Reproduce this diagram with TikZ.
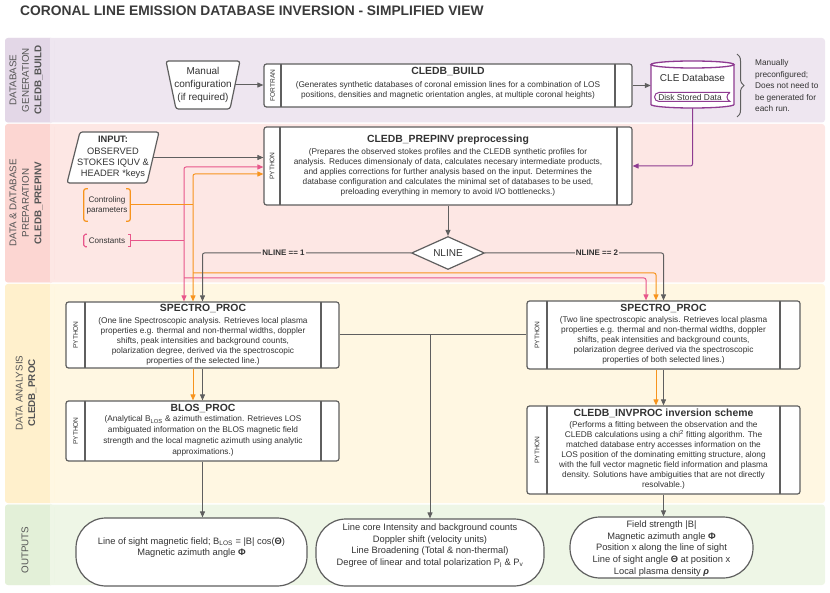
\documentclass[tikz,border=0pt]{standalone}
\usepackage{fontspec}
\setmainfont{Liberation Sans}
\usetikzlibrary{arrows.meta,shapes.geometric,calc,decorations.pathreplacing}

\definecolor{txt}{HTML}{333333}
\definecolor{ttlc}{HTML}{3A3A3A}
\definecolor{lblc}{HTML}{555555}
\definecolor{ln}{HTML}{5F5F5F}
\definecolor{org}{HTML}{F7941D}
\definecolor{pnk}{HTML}{E8568A}
\definecolor{prp}{HTML}{8E3B91}
\definecolor{bA}{HTML}{EEE6F0}\definecolor{bAs}{HTML}{E3D7E7}
\definecolor{bB}{HTML}{FDE7E4}\definecolor{bBs}{HTML}{FCD6D2}
\definecolor{bC}{HTML}{FFF7E2}\definecolor{bCs}{HTML}{FFF0CC}
\definecolor{bD}{HTML}{EEF6E6}\definecolor{bDs}{HTML}{E3F0D8}

\newcommand{\fsz}[2]{\fontsize{#1}{#2}\selectfont}

\tikzset{
  arr/.style={-{Triangle[length=6pt,width=5pt]}},
  arrtwo/.style={{Triangle[length=6pt,width=5pt]}-{Triangle[length=6pt,width=5pt]}},
  gline/.style={draw=ln, line width=1pt},
  oline/.style={draw=org, line width=1pt},
  pline/.style={draw=pnk, line width=1pt},
  uline/.style={draw=prp, line width=1pt},
  proc/.style={draw=ln, line width=1.2pt, fill=white, rounded corners=2.5pt, inner sep=0pt, rectangle},
  shapeline/.style={draw=ln, line width=1.2pt, fill=white, rounded corners=2.5pt},
  ttl/.style={font=\bfseries\fsz{10.4}{12}, text=txt, inner sep=0pt},
  dsc/.style={font=\fsz{8.3}{10}, text=txt, align=center, inner sep=0pt},
  lang/.style={font=\fsz{6.6}{8}, text=txt, rotate=90, inner sep=0pt},
  blabel/.style={font=\fsz{9.8}{12.5}, text=lblc, rotate=90, align=center, inner sep=0pt},
  outp/.style={draw=ln, line width=1.2pt, fill=white, rounded corners=30pt, inner sep=0pt},
  otext/.style={font=\fsz{9.3}{11.8}, align=center, text=txt, inner sep=0pt},
  cond/.style={font=\bfseries\fsz{8}{10}, text=txt, fill=bB, inner sep=1pt},
}

% name, x1, y1, x2, y2, left strip, right strip, language
\newcommand{\procbox}[8]{%
  \node[proc, minimum width={#4-#2}, minimum height={#5-#3}] (#1) at ({(#2+#4)/2},{(#3+#5)/2}) {};
  \draw[ln, line width=1.2pt] ({#2+#6},#3) -- ({#2+#6},#5);
  \draw[ln, line width=1.2pt] ({#4-#7},#3) -- ({#4-#7},#5);
  \node[lang] (#1-lang) at ({#2+#6/2},{(#3+#5)/2}) {#8};
}

\begin{document}
\begin{tikzpicture}[x=1pt,y=-1pt]
\useasboundingbox (0,0) rectangle (830,593);

% ---------- bands ----------
\fill[bA, rounded corners=3pt] (5,38) rectangle (825,122.5);
\fill[bAs, rounded corners=3pt] (5,38) rectangle (54,122.5);
\fill[bA] (50,38) rectangle (54,122.5);
\fill[bB, rounded corners=3pt] (5,124) rectangle (825,282.5);
\fill[bBs, rounded corners=3pt] (5,124) rectangle (54,282.5);
\fill[bB] (50,124) rectangle (54,282.5);
\fill[bC, rounded corners=3pt] (5,284) rectangle (825,503);
\fill[bCs, rounded corners=3pt] (5,284) rectangle (54,503);
\fill[bC] (50,284) rectangle (54,503);
\fill[bD, rounded corners=3pt] (5,504.5) rectangle (825,585);
\fill[bDs, rounded corners=3pt] (5,504.5) rectangle (54,585);
\fill[bD] (50,504.5) rectangle (54,585);

\node[blabel] (lab1) at (26,80) {DATABASE\\GENERATION\\\textbf{CLEDB\_BUILD}};
\node[blabel] (lab2) at (26,203) {DATA \& DATABASE\\PREPARATION\\\textbf{CLEDB\_PREPINV}};
\node[blabel] (lab3) at (26,393) {DATA ANALYSIS\\\textbf{CLEDB\_PROC}};
\node[blabel] (lab4) at (25,550) {OUTPUTS};

% ---------- title ----------
\node[anchor=west, inner sep=0pt, font=\bfseries\fsz{13.8}{16}, text=ttlc] (title) at (20,10.5)
  {CORONAL LINE EMISSION DATABASE INVERSION - SIMPLIFIED VIEW};

% ---------- database generation ----------
\draw[shapeline] (166,61) -- (240,61) -- (230,109) -- (176,109) -- cycle;
\node[align=center, font=\fsz{10}{13}, text=txt, inner sep=0pt, minimum width=64pt] (manual) at (203,85) {Manual\\configuration\\(if required)};

\procbox{build}{264}{64}{632}{107}{17}{17}{FORTRAN}
\node[ttl] (build-t) at (448,72) {CLEDB\_BUILD};
\node[dsc] (build-d) at (448,90) {(Generates synthetic databases of coronal emission lines for a combination of LOS\\positions, densities and magnetic orientation angles, at multiple coronal heights)};

\node[minimum width=83pt, minimum height=47pt, inner sep=0pt] (db) at (692.5,84.5) {};
\draw[prp, line width=1.3pt, fill=white] (651,64.5) -- (651,104.5)
  arc[start angle=180, end angle=360, x radius=41.5pt, y radius=3.5pt] -- (734,64.5);
\draw[prp, line width=1.3pt, fill=white] (692.5,64.5) ellipse [x radius=41.5pt, y radius=3.5pt];
\node[font=\fsz{10}{12}, text=txt, inner sep=0pt] (db-t) at (692.5,78) {CLE Database};
\draw[prp, line width=1pt, fill=white] (730,92.5) -- (659,92.5)
  arc[start angle=90, end angle=270, x radius=4.5pt, y radius=4.5pt] -- (730,101.5)
  .. controls (726,99.5) and (726,94.5) .. (730,92.5);
\node[font=\fsz{8.4}{10}, text=txt, inner sep=0pt] (disk) at (690,97.3) {Disk Stored Data};

\draw[decorate, decoration={brace, amplitude=7pt}, ln, line width=1pt] (737,54) -- (737,117);
\node[anchor=west, align=left, font=\fsz{8.3}{11.5}, text=txt, inner sep=0pt] (note) at (755,86)
  {Manually\\preconfigured;\\Does not need to\\be generated for\\each run.};

\draw[gline, arr] (manual.east) -- (manual.east -| build.west);
\draw[gline, arr] (build.east) -- (build.east -| db.west);

% ---------- preparation ----------
\draw[shapeline] (80,132) -- (159,132) -- (147,183) -- (67,183) -- cycle;
\node[align=center, font=\fsz{9.3}{11.3}, text=txt, inner sep=0pt, minimum width=80pt] (input) at (113,157.5)
  {\textbf{INPUT:}\\OBSERVED\\STOKES IQUV \&\\HEADER *keys};

\node[font=\fsz{8.1}{10}, align=center, text=txt, minimum width=46pt, minimum height=32pt, inner sep=0pt] (ctrl) at (107,205) {Controling\\parameters};
\draw[org, line width=1.2pt, rounded corners=2pt] ($(ctrl.north west)+(4,0)$) -- (ctrl.north west) -- (ctrl.south west) -- ($(ctrl.south west)+(4,0)$);
\draw[org, line width=1.2pt, rounded corners=2pt] ($(ctrl.north east)+(-4,0)$) -- (ctrl.north east) -- (ctrl.south east) -- ($(ctrl.south east)+(-4,0)$);

\node[font=\fsz{8.1}{10}, text=txt, minimum width=46pt, minimum height=12pt, inner sep=0pt] (const) at (107,240.5) {Constants};
\draw[pnk, line width=1.2pt, rounded corners=1.5pt] ($(const.north west)+(3,0)$) -- (const.north west) -- (const.south west) -- ($(const.south west)+(3,0)$);
\draw[pnk, line width=1.2pt] ($(const.north east)+(-2,0)$) -- (const.north east) -- (const.south east) -- ($(const.south east)+(-2,0)$);

\procbox{prep}{264}{127}{632}{205}{16}{15}{PYTHON}
\node[ttl] (prep-t) at (448,140) {CLEDB\_PREPINV preprocessing};
\node[dsc] (prep-d) at (448,172.5) {(Prepares the observed stokes profiles and the CLEDB synthetic profiles for\\analysis. Reduces dimensionaly of data, calculates necesary intermediate products,\\and applies corrections for further analysis based on the input. Determines the\\database configuration and calculates the minimal set of databases to be used,\\preloading everything in memory to avoid I/O bottlenecks.)};

\node[diamond, draw=ln, line width=1.2pt, fill=white, minimum width=73pt, minimum height=33pt,
      inner sep=0pt, aspect=2.2, font=\fsz{10}{12}, text=txt] (nline) at (448,253) {NLINE};

% ---------- analysis boxes ----------
\procbox{sp1}{66}{302}{339}{368}{19}{18}{PYTHON}
\node[ttl] (sp1-t) at (203,309) {SPECTRO\_PROC};
\node[dsc] (sp1-d) at (203,341.5) {(One line Spectroscopic analysis. Retrieves local plasma\\properties e.g. thermal and non-thermal widths, doppler\\shifts, peak intensities and background counts,\\polarization degree, derived via the spectroscopic\\properties of the selected line.)};

\procbox{blos}{66}{401}{339}{461}{19}{18}{PYTHON}
\node[ttl] (blos-t) at (203,408.5) {BLOS\_PROC};
\node[dsc, font=\fsz{8.3}{10.8}] (blos-d) at (203,436) {(Analytical B\textsubscript{LOS} \& azimuth estimation. Retrieves LOS\\ambiguated information on the BLOS magnetic field\\strength and the local magnetic azimuth using analytic\\approximations.)};

\procbox{sp2}{527}{301}{800}{369}{20}{20}{PYTHON}
\node[ttl] (sp2-t) at (663.5,308.5) {SPECTRO\_PROC};
\node[dsc] (sp2-d) at (663.5,340.5) {(Two line spectroscopic analysis. Retrieves local plasma\\properties e.g. thermal and non-thermal widths, doppler\\shifts, peak intensities and background counts,\\polarization degree derived via the spectroscopic\\properties of both selected lines.)};

\procbox{inv}{527}{406}{800}{494}{20}{20}{PYTHON}
\node[ttl] (inv-t) at (663.5,413.5) {CLEDB\_INVPROC inversion scheme};
\node[dsc] (inv-d) at (663.5,455.5) {(Performs a fitting between the observation and the\\CLEDB calculations using a chi\textsuperscript{2} fitting algorithm. The\\matched database entry accesses information on the\\LOS position of the dominating emitting structure, along\\with the full vector magnetic field information and plasma\\density. Solutions have ambiguities that are not directly\\resolvable.)};

% ---------- outputs ----------
\node[outp, minimum width=231pt, minimum height=68pt] (out1) at (191.5,552) {};
\node[otext] (out1-t) at (191.5,547.5) {Line of sight magnetic field; B\textsubscript{LOS} = |B| cos(\textbf{Θ})\\Magnetic azimuth angle \textbf{Φ}};
\node[outp, minimum width=228pt, minimum height=67pt] (out2) at (430,552.5) {};
\node[otext] (out2-t) at (430,545.5) {Line core Intensity and background counts\\Doppler shift (velocity units)\\Line Broadening (Total \& non-thermal)\\Degree of linear and total polarization P\textsubscript{l} \& P\textsubscript{v}};
\node[outp, minimum width=183pt, minimum height=61pt] (out3) at (661.5,547.5) {};
\node[otext] (out3-t) at (661.5,548.5) {Field strength |B|\\Magnetic azimuth angle \textbf{Φ}\\Position x along the line of sight\\Line of sight angle \textbf{Θ} at position x\\Local plasma density \textbf{\textit{ρ}}};

% ---------- connectors ----------
\coordinate (obus) at (193,273);
\coordinate (pbus) at (184,278);
\coordinate (jn) at (430,335);

\draw[gline, arr] (input.east) -- (input.east -| prep.west);
\draw[uline, arr, rounded corners=2pt] (db.south) |- (prep.east |- 0,166);

\draw[pline] (const.east) -- (const.east -| pbus);
\draw[pline, arrtwo, rounded corners=2pt] (pbus |- sp1.north) -- (pbus |- 0,167) -- (prep.west |- 0,167);
\draw[pline, arr, rounded corners=2pt] (pbus) -| (sp2.north -| 646,0);

\draw[oline] (ctrl.east) -- (ctrl.east -| obus);
\draw[oline, arrtwo, rounded corners=2pt] (obus |- sp1.north) -- (obus |- 0,174) -- (prep.west |- 0,174);
\draw[oline, arr, rounded corners=2pt] (obus) -| (sp2.north -| 656,0);

\draw[gline, arr] (prep.south) -- (nline.north);
\draw[gline, arr, rounded corners=2pt] (nline.west) -| (sp1.north);
\draw[gline, arr, rounded corners=2pt] (nline.east) -| (sp2.north);
\node[cond] (cond1) at (283.5,253) {NLINE == 1};
\node[cond] (cond2) at (597,253) {NLINE == 2};

\draw[oline, arr] (sp1.south -| obus) -- (blos.north -| obus);
\draw[gline, arr] (sp1.south) -- (blos.north);
\draw[oline, arr] (sp2.south -| 656,0) -- (inv.north -| 656,0);
\draw[gline, arr] (sp2.south) -- (inv.north);

\draw[gline] (sp1.east) -- (sp2.west);
\draw[gline, arr] (jn) -- (jn |- out2.north);
\draw[gline, arr] (blos.south) -- (blos.south |- out1.north);
\draw[gline, arr] (inv.south) -- (inv.south |- out3.north);
\end{tikzpicture}
\end{document}
